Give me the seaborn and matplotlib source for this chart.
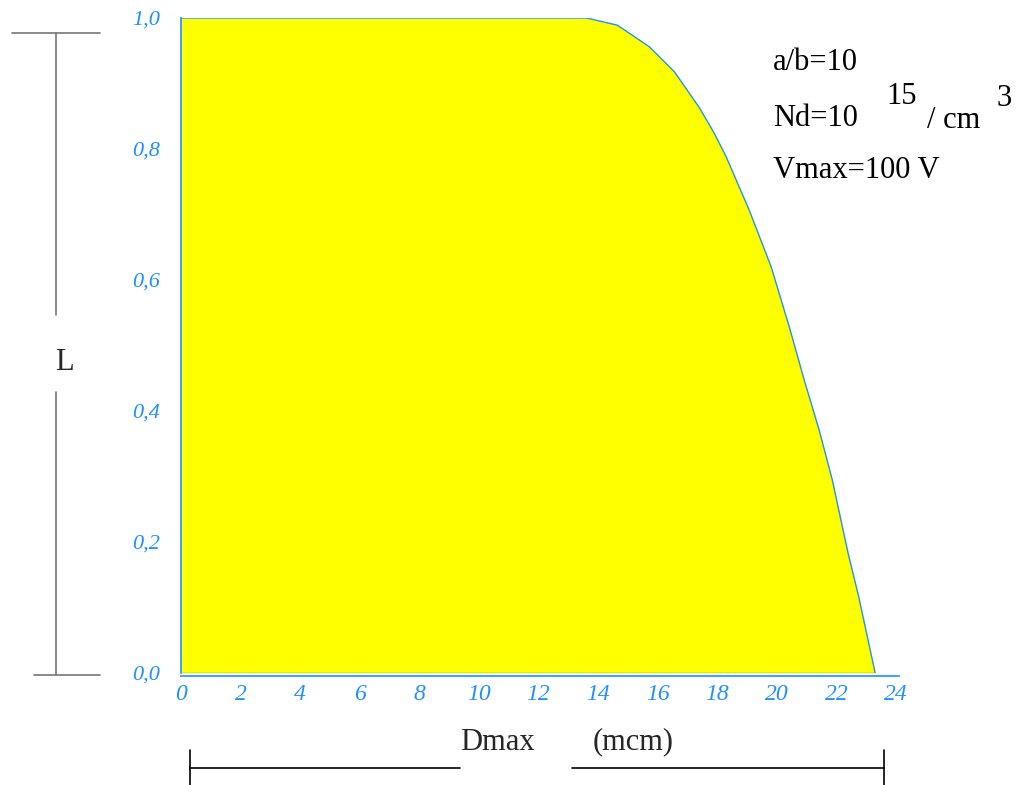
import matplotlib
matplotlib.use("Agg")
import matplotlib.pyplot as plt
import numpy as np
import pandas as pd
import seaborn as sns

# ---- data ----
d_max = [0.0, 13.61, 14.65, 15.72, 16.56, 17.40, 17.90, 18.30, 19.07, 19.81,
         20.42, 20.92, 21.42, 21.86, 22.39, 22.75, 23.30]
l_val = [1.0, 1.0, 0.989, 0.956, 0.918, 0.863, 0.824, 0.788, 0.707, 0.620,
         0.528, 0.447, 0.371, 0.295, 0.183, 0.116, 0.0]
x_ticks = [0, 2, 4, 6, 8, 10, 12, 14, 16, 18, 20, 22, 24]
y_ticks = [0.0, 0.2, 0.4, 0.6, 0.8, 1.0]
y_tick_labels = ["0,0", "0,2", "0,4", "0,6", "0,8", "1,0"]

data = pd.DataFrame({"Dmax": d_max, "L": l_val})

W, H = 1017, 785
blue = "#1E90FF"
serif = ["Liberation Serif", "DejaVu Serif"]

sns.set_style("white")
plt.rcParams["font.family"] = serif

fig = plt.figure(figsize=(W / 100, H / 100), dpi=100)
ax = fig.add_axes([181 / W, 1 - 673 / H, (899 - 181) / W, (673 - 18) / H])


def px(x, y):
    # pixel position -> figure fraction
    return x / W, 1 - y / H


# filled area + outline
ax.fill_between(data["Dmax"], data["L"], 0, color="#FFFF00", linewidth=0)
sns.lineplot(data=data, x="Dmax", y="L", color=blue, linewidth=1.0, ax=ax, sort=False)
ax.plot([data["Dmax"].iloc[-1], 0], [0, 0], color=blue, linewidth=1.0)

ax.set_xlim(0, 24.1)
ax.set_ylim(0, 1.0)
ax.set_xlabel("")
ax.set_ylabel("")

for s in ["top", "right"]:
    ax.spines[s].set_visible(False)
for s in ["left", "bottom"]:
    ax.spines[s].set_color(blue)
    ax.spines[s].set_linewidth(1.2)
ax.spines["bottom"].set_position(("outward", 2))

ax.set_xticks(x_ticks)
ax.set_xticklabels([str(v) for v in x_ticks])
ax.set_xticks(np.arange(1, 24, 2), minor=True)
ax.set_yticks(y_ticks)
ax.set_yticklabels(y_tick_labels)
ax.set_yticks(np.arange(0.1, 1.0, 0.2), minor=True)

ax.tick_params(axis="x", which="both", direction="out", length=6, width=1,
               color=blue, pad=0, labelsize=17, labelcolor=blue)
ax.tick_params(axis="y", which="major", length=0, pad=15, labelsize=16, labelcolor=blue)
ax.tick_params(axis="y", which="minor", direction="inout", length=9, width=1, color=blue)
for lab in ax.get_xticklabels() + ax.get_yticklabels():
    lab.set_fontstyle("italic")
    lab.set_family(serif)

# annotation text
txt = dict(fontsize=22, color="black", family=serif, va="center")
fig.text(*px(773, 62), "a/b=10", ha="left", **txt)
fig.text(*px(773, 118), "Nd=10", ha="left", **txt)
fig.text(*px(886, 97), "15", ha="left", **txt)
fig.text(*px(927, 120), "/ cm", ha="left", **txt)
fig.text(*px(996, 99), "3", ha="left", **txt)
fig.text(*px(773, 170), "Vmax=100 V", ha="left", **txt)

# left dimension marker "L"
grey = "#777777"
for xs, ys in [([12, 100], [33, 33]), ([34, 100], [675, 675]),
               ([56, 56], [33, 315]), ([56, 56], [392, 675])]:
    fig.add_artist(plt.Line2D([x / W for x in xs], [1 - y / H for y in ys],
                              transform=fig.transFigure, color=grey, linewidth=1.2))
fig.text(*px(64, 362), "L", fontsize=22, family=serif, ha="center", va="center")

# bottom dimension marker "Dmax (mcm)"
for xs, ys in [([190, 460], [768, 768]), ([572, 884], [768, 768]),
               ([190, 190], [750, 785]), ([884, 884], [750, 785])]:
    fig.add_artist(plt.Line2D([x / W for x in xs], [1 - y / H for y in ys],
                              transform=fig.transFigure, color="black", linewidth=1.2))
fig.text(*px(497, 742), "Dmax", fontsize=22, family=serif, ha="center", va="center")
fig.text(*px(633, 742), "(mcm)", fontsize=22, family=serif, ha="center", va="center")

fig.savefig("out.png", dpi=100, facecolor="white")
